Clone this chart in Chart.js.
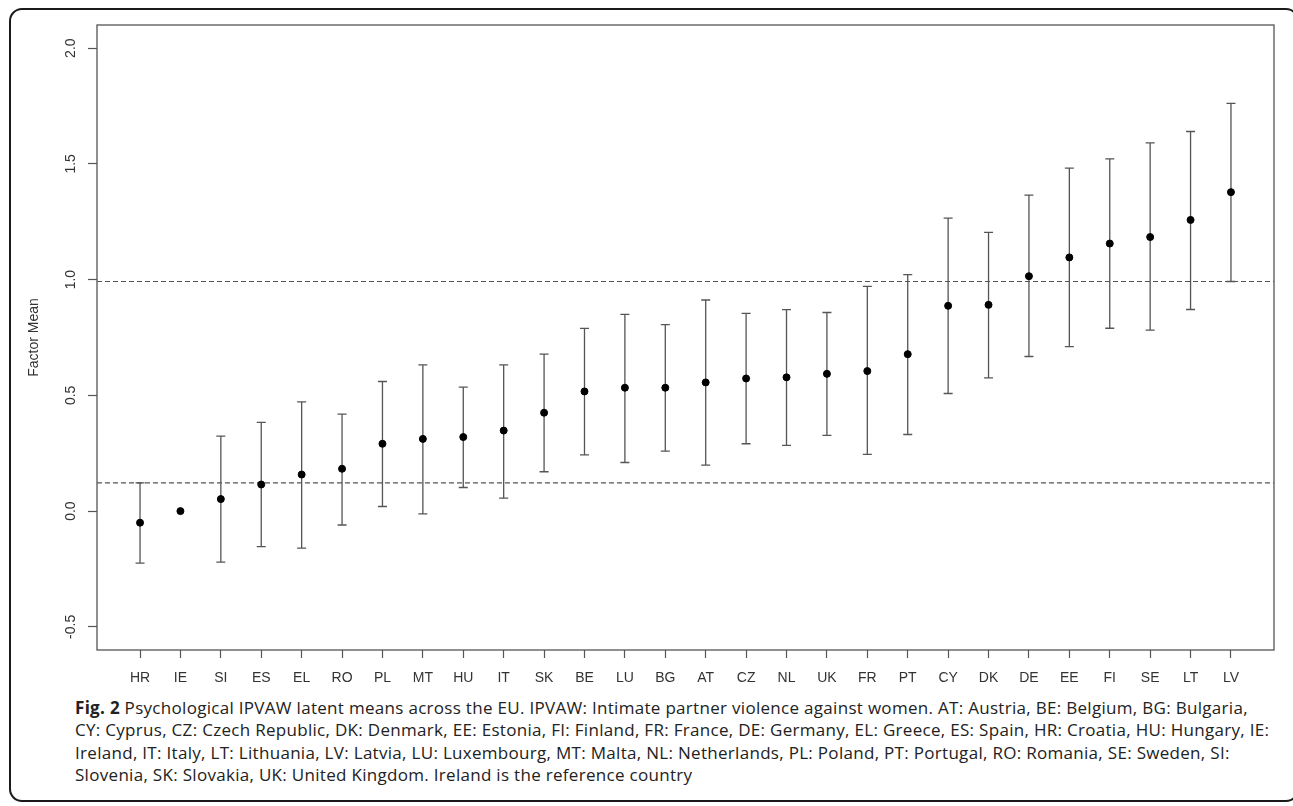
<!DOCTYPE html>
<html lang="en">
<head>
<meta charset="UTF-8">
<title>Psychological IPVAW latent means</title>
<script src="https://cdn.jsdelivr.net/npm/chart.js"></script>
<style>
  html, body { margin: 0; padding: 0; background: #fff; overflow: hidden; }
  .frame {
    position: absolute; left: 9px; top: 8px; width: 1290px; height: 794px;
    border: 2px solid #1a1a1a; border-radius: 13px; box-sizing: border-box;
  }
  #myChart { position: absolute; left: 0; top: 0; }
  .caption {
    position: absolute; left: 75px; top: 697px;
    font-family: 'Open Sans', sans-serif; font-size: 17px; line-height: 22.3px;
    letter-spacing: 0.3px; color: #222; white-space: nowrap;
  }
  .caption b { font-weight: 700; }
</style>
</head>
<body>
<div class="frame"></div>
<canvas id="myChart" width="1293" height="690"></canvas>
<div class="caption">
  <b>Fig. 2</b> Psychological IPVAW latent means across the EU. IPVAW: Intimate partner violence against women. AT: Austria, BE: Belgium, BG: Bulgaria,<br>
  CY: Cyprus, CZ: Czech Republic, DK: Denmark, EE: Estonia, FI: Finland, FR: France, DE: Germany, EL: Greece, ES: Spain, HR: Croatia, HU: Hungary, IE:<br>
  Ireland, IT: Italy, LT: Lithuania, LV: Latvia, LU: Luxembourg, MT: Malta, NL: Netherlands, PL: Poland, PT: Portugal, RO: Romania, SE: Sweden, SI:<br>
  Slovenia, SK: Slovakia, UK: United Kingdom. Ireland is the reference country
</div>
<script>
  // countries, sorted by latent mean (Ireland = reference, fixed at 0)
  var paises = ['HR','IE','SI','ES','EL','RO','PL','MT','HU','IT','SK','BE','LU','BG',
                'AT','CZ','NL','UK','FR','PT','CY','DK','DE','EE','FI','SE','LT','LV']
  var medias = [-0.05, 0.0, 0.052, 0.115, 0.158, 0.183, 0.291, 0.312, 0.32, 0.348, 0.425, 0.517, 0.533, 0.533,
                0.556, 0.573, 0.578, 0.593, 0.605, 0.678, 0.887, 0.891, 1.015, 1.096, 1.156, 1.184, 1.258, 1.378]
  var inferior = [-0.225, null, -0.22, -0.153, -0.16, -0.06, 0.02, -0.012, 0.102, 0.056, 0.17, 0.243, 0.21, 0.259,
                  0.199, 0.291, 0.284, 0.327, 0.245, 0.331, 0.508, 0.576, 0.668, 0.711, 0.79, 0.782, 0.871, 0.992]
  var superior = [0.122, null, 0.324, 0.383, 0.472, 0.419, 0.56, 0.632, 0.536, 0.632, 0.678, 0.789, 0.85, 0.806,
                  0.912, 0.854, 0.87, 0.858, 0.971, 1.022, 1.266, 1.204, 1.365, 1.482, 1.522, 1.591, 1.64, 1.761]
  var yTicks = [-0.5, 0.0, 0.5, 1.0, 1.5, 2.0]
  var linhasRef = [0.122, 0.992]

  const cinza = '#555'

  // error bars, dashed reference lines and the box around the plot
  const extras = {
    id: 'extras',
    beforeDatasetsDraw(chart) {
      const c = chart.ctx, xs = chart.scales.x, ys = chart.scales.y, a = chart.chartArea
      c.save()
      c.strokeStyle = cinza
      c.lineWidth = 1.2
      c.setLineDash([5, 3])
      linhasRef.forEach(v => {
        const y = ys.getPixelForValue(v)
        c.beginPath(); c.moveTo(a.left, y); c.lineTo(a.right, y); c.stroke()
      })
      c.setLineDash([])
      c.lineWidth = 1.3
      paises.forEach((p, i) => {
        if (inferior[i] == null) return
        const x = xs.getPixelForValue(i)
        const y1 = ys.getPixelForValue(inferior[i]), y2 = ys.getPixelForValue(superior[i])
        c.beginPath()
        c.moveTo(x, y1); c.lineTo(x, y2)
        c.moveTo(x - 4.5, y1); c.lineTo(x + 4.5, y1)
        c.moveTo(x - 4.5, y2); c.lineTo(x + 4.5, y2)
        c.stroke()
      })
      c.strokeRect(a.left, a.top, a.right - a.left, a.bottom - a.top)
      c.restore()
    }
  }

  const ctx = document.getElementById('myChart')

  new Chart(ctx, {
    type: 'scatter',
    data: {
      datasets: [{
        data: medias.map((m, i) => ({ x: i, y: m })),
        backgroundColor: '#000',
        borderColor: '#000',
        pointRadius: 3.5,
        pointHoverRadius: 3.5
      }]
    },
    options: {
      responsive: false,
      animation: false,
      events: [],
      layout: { padding: { left: 0, top: 25, right: 19, bottom: 0 } },
      plugins: { legend: { display: false }, tooltip: { enabled: false } },
      scales: {
        x: {
          type: 'linear',
          min: -1.065,
          max: 28.065,
          afterBuildTicks: (s) => { s.ticks = paises.map((p, i) => ({ value: i })) },
          afterFit: (s) => { s.height = 40 },
          grid: { drawOnChartArea: false, tickLength: 8, color: cinza, tickWidth: 1.2 },
          border: { display: false },
          ticks: {
            autoSkip: false,
            maxRotation: 0,
            padding: 12,
            color: '#333',
            font: { family: 'Liberation Sans', size: 14 },
            callback: (v) => paises[v]
          }
        },
        y: {
          min: -0.6,
          max: 2.1,
          afterBuildTicks: (s) => { s.ticks = yTicks.map(v => ({ value: v })) },
          afterFit: (s) => { s.width = 97 },
          grid: { drawOnChartArea: false, tickLength: 9, color: cinza, tickWidth: 1.2 },
          border: { display: false },
          title: {
            display: true,
            text: 'Factor Mean',
            color: '#333',
            font: { family: 'Liberation Sans', size: 14 },
            padding: { top: 26, bottom: 0 }
          },
          ticks: {
            minRotation: 90,
            maxRotation: 90,
            crossAlign: 'center',
            padding: 5,
            color: '#333',
            font: { family: 'Liberation Sans', size: 14 },
            callback: (v) => v.toFixed(1)
          }
        }
      }
    },
    plugins: [extras]
  })
</script>
</body>
</html>
